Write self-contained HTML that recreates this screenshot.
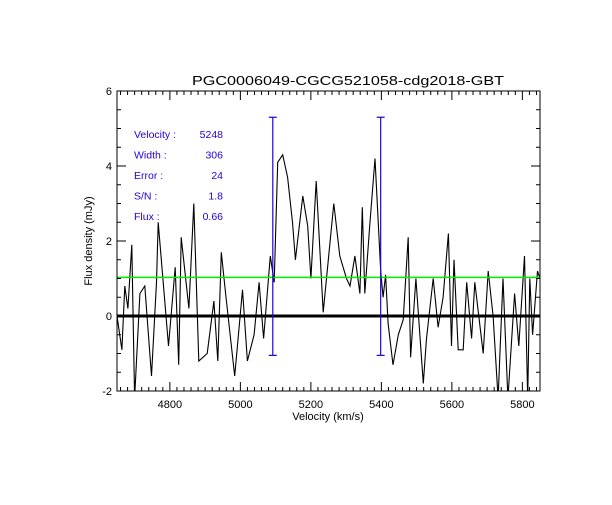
<!DOCTYPE html>
<html><head><meta charset="utf-8"><style>
body{margin:0;background:#fff}
svg text{font-family:"Liberation Sans",sans-serif}
</style></head><body>
<svg id="c" width="612" height="500" xmlns="http://www.w3.org/2000/svg"></svg>
<script>
const velocities=[4650,4664,4672,4681,4692,4700,4715,4729,4748,4762,4767,4796,4815,4825,4832,4854,4868,4882,4906,4925,4936,4946,4958,4984,5006,5020,5039,5053,5066,5085,5096,5106,5120,5134,5148,5156,5177,5191,5200,5215,5235,5265,5282,5301,5311,5325,5339,5346,5353,5367,5382,5398,5405,5412,5419,5433,5448,5462,5476,5483,5498,5519,5528,5547,5561,5575,5590,5599,5606,5618,5632,5642,5656,5665,5689,5703,5717,5731,5745,5759,5778,5790,5806,5815,5821,5829,5843,5850];
const fluxes=[0.0,-0.9,0.8,0.2,1.9,-2.2,0.6,0.8,-1.6,0.9,2.5,-0.8,1.3,-1.3,2.1,0.2,3.0,-1.2,-1.0,0.4,-1.2,1.7,0.6,-1.6,0.7,-1.2,-0.5,0.9,-0.6,1.6,0.9,4.1,4.3,3.7,2.5,1.5,3.2,2.4,1.0,3.6,0.1,3.0,1.6,1.0,0.8,1.6,0.6,2.9,0.6,2.4,4.2,1.2,0.5,1.1,-0.2,-1.3,-0.5,-0.1,2.1,-1.1,1.0,-1.8,-0.6,1.0,-0.3,0.5,2.2,-0.8,1.5,-0.9,-0.9,0.9,-0.6,0.9,-1.0,1.2,0.0,-2.2,1.0,-2.2,0.6,-0.8,1.6,-2.2,1.0,-0.5,1.2,1.0];
const xTicks=[4800,5000,5200,5400,5600,5800];
const yTicks=[-2,0,2,4,6];
const markers=[5092,5398];
const markerRange=[-1.05,5.3];
const meanLevel=1.03;
const infoLabels=["Velocity :","Width :","Error :","S/N :","Flux :"];
const infoValues=["5248","306","24","1.8","0.66"];
const xmin=4650,xmax=5850,ymin=-2,ymax=6;
const L=117,R=540,T=91,B=391;
const X=v=>L+(v-xmin)/(xmax-xmin)*(R-L);
const Y=f=>B-(f-ymin)/(ymax-ymin)*(B-T);
const svg=document.getElementById('c');
const NS='http://www.w3.org/2000/svg';
function mk(tag,attrs,parent){const e=document.createElementNS(NS,tag);for(const k in attrs)e.setAttribute(k,attrs[k]);(parent||svg).appendChild(e);return e;}
const defs=mk('defs',{});const cp=mk('clipPath',{id:'clip'},defs);mk('rect',{x:L,y:T,width:R-L,height:B-T},cp);
let e;
e=mk('text',{x:192,y:85,'font-size':'12.5',textLength:'312',lengthAdjust:'spacingAndGlyphs'});e.textContent='PGC0006049-CGCG521058-cdg2018-GBT';


let pts=velocities.map((v,i)=>X(v).toFixed(1)+','+Y(fluxes[i]).toFixed(1)).join(' ');
e=mk('polyline',{points:pts,fill:'none',stroke:'#000','stroke-width':'1.1','clip-path':'url(#clip)'});


e=mk('line',{x1:L,x2:R,y1:Y(0),y2:Y(0),stroke:'#000','stroke-width':'3'});


e=mk('line',{x1:L,x2:R,y1:Y(meanLevel),y2:Y(meanLevel),stroke:'#00ee00','stroke-width':'1.5'});


markers.forEach(m=>{
 const g=mk('g',{stroke:'#2200dd','stroke-width':'1.2'});
 
 
 mk('line',{x1:X(m),x2:X(m),y1:Y(markerRange[0]),y2:Y(markerRange[1])},g);
 mk('line',{x1:X(m)-4,x2:X(m)+4,y1:Y(markerRange[0]),y2:Y(markerRange[0])},g);
 mk('line',{x1:X(m)-4,x2:X(m)+4,y1:Y(markerRange[1]),y2:Y(markerRange[1])},g);
});
e=mk('rect',{x:L,y:T,width:R-L,height:B-T,fill:'none',stroke:'#000','stroke-width':'1'});


for(let v=4660;v<=5840;v+=20){const big=v%200===0;const h=big?9:4;
 mk('line',{x1:X(v),x2:X(v),y1:B,y2:B-h,stroke:'#000'});mk('line',{x1:X(v),x2:X(v),y1:T,y2:T+h,stroke:'#000'});}
for(let f=-2;f<=6;f+=0.5){const big=f%2===0;const h=big?9:4;
 mk('line',{x1:L,x2:L+h,y1:Y(f),y2:Y(f),stroke:'#000'});mk('line',{x1:R,x2:R-h,y1:Y(f),y2:Y(f),stroke:'#000'});}
xTicks.forEach(v=>{e=mk('text',{x:X(v),y:B+17,'text-anchor':'middle','font-size':'11'});e.textContent=v;
 
 });
yTicks.forEach(f=>{e=mk('text',{x:L-5,y:Y(f)+4,'text-anchor':'end','font-size':'11'});e.textContent=f;
 
 });
e=mk('text',{x:328,y:420,'text-anchor':'middle','font-size':'11'});e.textContent='Velocity (km/s)';


e=mk('text',{x:92,y:241,'text-anchor':'middle','font-size':'11',transform:'rotate(-90 92 241)'});e.textContent='Flux density (mJy)';


infoLabels.forEach((t,i)=>{
 e=mk('text',{x:134,y:138+i*20.5,'font-size':'10.5',fill:'#2200dd'});e.textContent=t;
 
 
 e=mk('text',{x:223,y:138+i*20.5,'font-size':'10.5',fill:'#2200dd','text-anchor':'end'});e.textContent=infoValues[i];
 
 
});
</script>
</body></html>
